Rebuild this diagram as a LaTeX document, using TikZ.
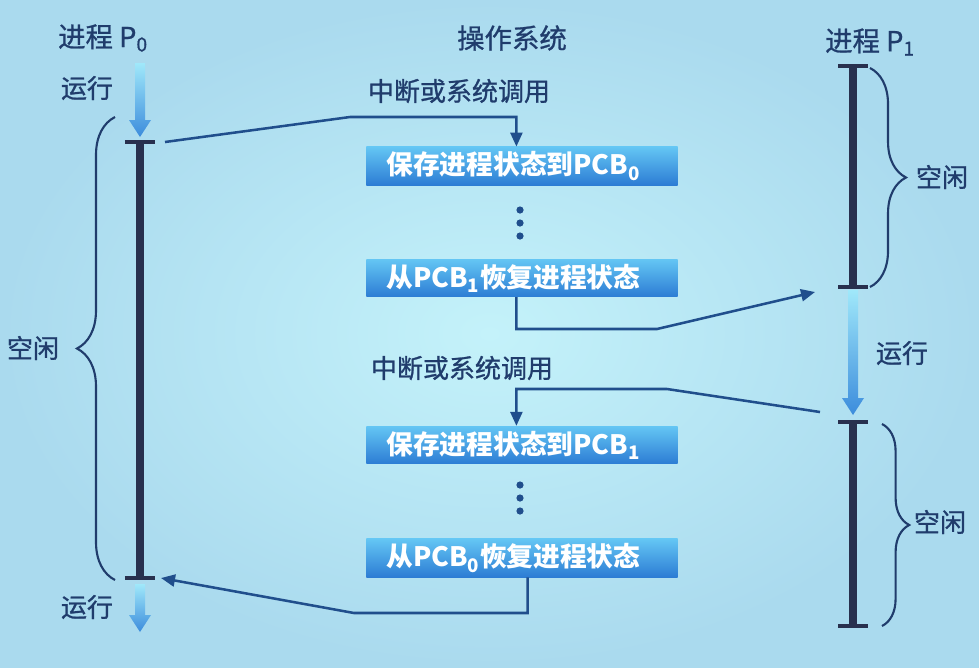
\documentclass[tikz,border=0pt]{standalone}
\usepackage{fontspec}
\setmainfont{Noto Sans CJK SC}
\newfontfamily\medfont[FakeBold=0.9]{Noto Sans CJK SC}
\usetikzlibrary{positioning, arrows.meta, decorations.pathreplacing}

\definecolor{navy}{RGB}{32,60,108}
\definecolor{linkblue}{RGB}{32,78,140}
\definecolor{barblue}{RGB}{40,48,78}
\definecolor{bgin}{RGB}{196,242,250}
\definecolor{bgout}{RGB}{170,218,238}
\definecolor{boxtop}{RGB}{100,198,244}
\definecolor{boxbot}{RGB}{44,124,212}
\definecolor{runtop}{RGB}{160,232,250}
\definecolor{runbot}{RGB}{60,140,220}

\begin{document}
\begin{tikzpicture}[x=0.025cm, y=-0.025cm,
  lbl/.style={text=navy, font=\fontsize{18.5}{20}\medfont},
  title/.style={text=navy, font=\fontsize{19.5}{22}\medfont},
  osbox/.style={top color=boxtop, bottom color=boxbot, text=white, font=\fontsize{19}{22}\selectfont\bfseries, minimum height=0.9cm, text width=6.775cm, inner xsep=0.5cm, align=left},
  timebar/.style={draw=barblue, line width=5pt},
  tickmark/.style={draw=barblue, line width=2.8pt},
  link/.style={draw=linkblue, line width=1.8pt, -{Triangle[length=0.35cm, width=0.3cm]}},
  idle/.style={draw=navy, line width=1.5pt, decorate, decoration={brace, amplitude=#1}}]
\useasboundingbox (0,0) rectangle (979,667);
\shade[inner color=bgin, outer color=bgout] (0,0) rectangle (979,667);

\node[title] (pzero) at (103,38) {进程 P\textsubscript{0}};
\node[title] (os) at (512,38) {操作系统};
\node[title] (pone) at (870,42) {进程 P\textsubscript{1}};

\node[osbox] (save0) at (522,166) {保存进程状态到PCB\textsubscript{0}};
\node[osbox] (load1) at (522,278) {从PCB\textsubscript{1}恢复进程状态};
\node[osbox] (save1) at (522,445) {保存进程状态到PCB\textsubscript{1}};
\node[osbox] (load0) at (522,558) {从PCB\textsubscript{0}恢复进程状态};
\node[lbl] (irq0) at (459,91) {中断或系统调用};
\node[lbl] (irq1) at (462,368) {中断或系统调用};
\foreach \y in {210,223,236,485,498,511}
  \fill[linkblue] (520,\y) circle (0.09cm);

\coordinate (p0top) at (140,142);
\coordinate (p0bot) at (140,578);
\coordinate (p1a) at (853,66);
\coordinate (p1b) at (853,287);
\coordinate (p1c) at (853,422);
\coordinate (p1d) at (853,626);
\draw[timebar] (p0top) -- (p0bot);
\draw[timebar] (p1a) -- (p1b);
\draw[timebar] (p1c) -- (p1d);
\foreach \c in {p0top,p0bot,p1a,p1b,p1c,p1d}
  \draw[tickmark] ([xshift=-0.375cm]\c) -- ([xshift=0.375cm]\c);
\foreach \x/\ya/\yb in {140/63/137, 140/584/632, 853/290/415}
  \shade[top color=runtop, bottom color=runbot] (\x-5,\ya) -- (\x+5,\ya) -- (\x+5,\yb-17) -- (\x+11,\yb-17) -- (\x,\yb) -- (\x-11,\yb-17) -- (\x-5,\yb-17) -- cycle;

\node[lbl] (run0) at (87,88) {运行};
\node[lbl] (run1) at (87,607) {运行};
\node[lbl] (run2) at (902,353) {运行};
\draw[idle=0.95cm] (115,580) -- (115,117);
\draw[idle=0.9cm] (870,68) -- (870,287);
\draw[idle=0.68cm] (882,424) -- (882,626);
\node[lbl] (idle0) at (33,348) {空闲};
\node[lbl] (idle1) at (942,177) {空闲};
\node[lbl] (idle2) at (940,522) {空闲};

\draw[link] ([xshift=0.625cm]p0top) -- (350,117) -| ([xshift=-0.14cm]save0.north);
\draw[link] ([xshift=-0.14cm]load1.south) |- (657,329) -- ([shift={(-38,5)}]p1b);
\draw[link] ([shift={(-33,-10)}]p1c) -- (667,389) -| ([xshift=-0.14cm]save1.north);
\draw[link] ([xshift=0.14cm]load0.south) |- (354,613) -- ([xshift=0.525cm]p0bot);
\end{tikzpicture}
\end{document}
